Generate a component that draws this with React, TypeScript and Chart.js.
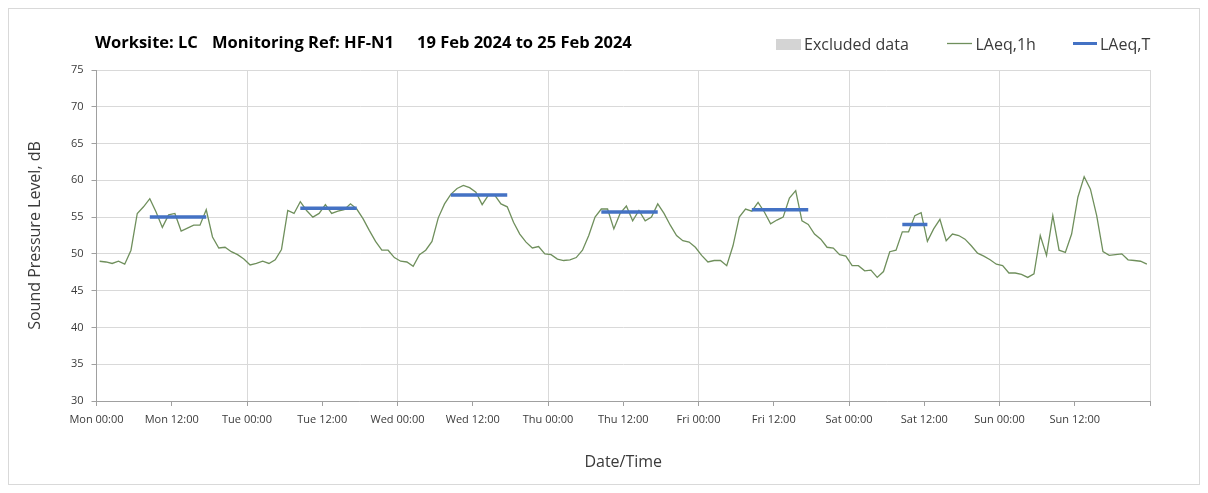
import React, { useEffect, useRef } from 'react';
import { Chart, registerables } from 'chart.js';

Chart.register(...registerables);

// ---- data ----
const dayNames = ['Mon', 'Tue', 'Wed', 'Thu', 'Fri', 'Sat', 'Sun'];
const tickLabels = dayNames.flatMap((d) => [`${d} 00:00`, `${d} 12:00`]);

// hourly LAeq,1h values, Mon 00:00 .. Sun 23:00
const laeq1h = [
  49.0, 48.9, 48.7, 49.0, 48.6, 50.5, 55.5, 56.4, 57.5, 55.7, 53.6, 55.3, 55.5, 53.1, 53.5, 53.9, 53.9, 56.0, 52.3, 50.8, 50.9, 50.3, 49.9, 49.3,
  48.5, 48.7, 49.0, 48.7, 49.2, 50.6, 55.9, 55.5, 57.1, 55.9, 55.0, 55.5, 56.7, 55.5, 55.8, 56.0, 56.8, 56.1, 54.8, 53.2, 51.7, 50.5, 50.5, 49.5,
  49.0, 48.9, 48.3, 49.9, 50.5, 51.7, 54.9, 56.8, 58.1, 58.9, 59.3, 59.0, 58.4, 56.7, 58.0, 58.0, 56.8, 56.4, 54.3, 52.7, 51.6, 50.8, 51.0, 50.0,
  49.9, 49.3, 49.1, 49.2, 49.5, 50.5, 52.5, 55.0, 56.1, 56.1, 53.4, 55.5, 56.5, 54.5, 55.9, 54.5, 55.0, 56.8, 55.5, 53.9, 52.5, 51.8, 51.6, 50.9,
  49.8, 48.9, 49.1, 49.1, 48.4, 51.1, 55.0, 56.1, 55.8, 57.0, 55.7, 54.1, 54.6, 55.0, 57.6, 58.6, 54.5, 54.0, 52.7, 52.0, 50.9, 50.8, 49.9, 49.7,
  48.4, 48.4, 47.7, 47.8, 46.8, 47.6, 50.3, 50.5, 53.0, 53.0, 55.2, 55.6, 51.7, 53.4, 54.7, 51.8, 52.7, 52.5, 52.0, 51.1, 50.1, 49.7, 49.2, 48.6,
  48.4, 47.4, 47.4, 47.2, 46.8, 47.3, 52.5, 49.8, 55.2, 50.5, 50.2, 52.7, 57.7, 60.5, 58.8, 55.2, 50.3, 49.8, 49.9, 50.0, 49.2, 49.1, 49.0, 48.6,
];

// LAeq,T periods (hour index from Mon 00:00)
const periodStart = [8, 32, 56, 80, 104, 128];
const periodEnd = [17, 41, 65, 89, 113, 132];
const periodLevel = [55.0, 56.2, 58.0, 55.7, 56.0, 54.0];

const yMin = 30;
const yMax = 75;
const yStep = 5;
const xMax = 168;
const xStep = 12;
const hourCentre = 0.5; // each hourly value is plotted at the middle of its hour

const titleParts = ['Worksite: LC', 'Monitoring Ref: HF-N1', '19 Feb 2024 to 25 Feb 2024'];
const legendLabels = ['Excluded data', 'LAeq,1h', 'LAeq,T'];

const GREEN = '#6f8f5c';
const BLUE = '#4472c4';
const GREY_BOX = '#d4d4d4';
const GRID = '#d9d9d9';
const AXIS = '#a0a0a0';
const TEXT = '#3a3a3a';

const headerPlugin = {
  id: 'header',
  afterDraw(chart: any) {
    const ctx = chart.ctx as CanvasRenderingContext2D;
    ctx.save();
    // title
    ctx.fillStyle = '#000';
    ctx.font = 'bold 16.5px "Open Sans"';
    ctx.textBaseline = 'alphabetic';
    ctx.textAlign = 'left';
    const tx = [86, 203, 408];
    titleParts.forEach((t, i) => ctx.fillText(t, tx[i], 38.5));

    // legend
    ctx.font = '16px "Open Sans"';
    ctx.fillStyle = GREY_BOX;
    ctx.fillRect(767, 30, 25, 11);
    ctx.fillStyle = TEXT;
    ctx.fillText(legendLabels[0], 795, 41);

    ctx.strokeStyle = GREEN;
    ctx.lineWidth = 1.3;
    ctx.beginPath();
    ctx.moveTo(938, 34.5);
    ctx.lineTo(963, 34.5);
    ctx.stroke();
    ctx.fillText(legendLabels[1], 966.5, 41);

    ctx.strokeStyle = BLUE;
    ctx.lineWidth = 3;
    ctx.beginPath();
    ctx.moveTo(1064, 34.5);
    ctx.lineTo(1088, 34.5);
    ctx.stroke();
    ctx.fillText(legendLabels[2], 1091, 41);
    ctx.restore();
  },
};

export default function App() {
  const canvasRef = useRef<HTMLCanvasElement | null>(null);

  useEffect(() => {
    if (!canvasRef.current) return;

    const hourlyPoints = laeq1h.map((v, i) => ({ x: i + hourCentre, y: v }));
    const periodPoints: { x: number; y: number | null }[] = [];
    periodStart.forEach((s, i) => {
      periodPoints.push({ x: s + hourCentre, y: periodLevel[i] });
      periodPoints.push({ x: periodEnd[i] + hourCentre, y: periodLevel[i] });
      periodPoints.push({ x: periodEnd[i] + hourCentre, y: null });
    });

    const chart = new Chart(canvasRef.current, {
      type: 'line',
      data: {
        datasets: [
          {
            label: 'LAeq,T',
            data: periodPoints as any,
            borderColor: BLUE,
            borderWidth: 3.5,
            borderCapStyle: 'butt',
            pointRadius: 0,
            spanGaps: false,
            tension: 0,
          },
          {
            label: 'LAeq,1h',
            data: hourlyPoints,
            borderColor: GREEN,
            borderWidth: 1.3,
            pointRadius: 0,
            tension: 0,
          },
        ],
      },
      options: {
        responsive: false,
        animation: false,
        devicePixelRatio: 1,
        layout: { padding: { top: 61, right: 49, left: 0, bottom: 0 } },
        plugins: {
          legend: { display: false },
          title: { display: false },
          tooltip: { enabled: false },
        },
        scales: {
          x: {
            type: 'linear',
            min: 0,
            max: xMax,
            afterFit: (scale: any) => {
              scale.height = 83;
            },
            ticks: {
              stepSize: xStep,
              autoSkip: false,
              maxRotation: 0,
              minRotation: 0,
              padding: 7,
              color: TEXT,
              font: { family: '"Open Sans"', size: 11 },
              callback: (v: any) => {
                const idx = Math.round(Number(v) / xStep);
                return tickLabels[idx] ?? '';
              },
            },
            grid: {
              color: (c: any) => (c.tick && c.tick.value % 24 === 0 ? GRID : 'rgba(0,0,0,0)'),
              tickColor: AXIS,
              tickLength: 5,
              lineWidth: 1,
            },
            border: { display: true, color: AXIS },
            title: {
              display: true,
              text: 'Date/Time',
              color: TEXT,
              font: { family: '"Open Sans"', size: 16 },
              padding: { top: 0, bottom: 12 },
            },
          },
          y: {
            type: 'linear',
            min: yMin,
            max: yMax,
            afterFit: (scale: any) => {
              scale.width = 87.5;
            },
            ticks: {
              stepSize: yStep,
              padding: 8,
              color: TEXT,
              font: { family: '"Open Sans"', size: 11 },
            },
            grid: {
              color: GRID,
              tickColor: AXIS,
              tickLength: 5,
            },
            border: { display: true, color: AXIS },
            title: {
              display: true,
              text: 'Sound Pressure Level, dB',
              color: TEXT,
              font: { family: '"Open Sans"', size: 16 },
              padding: { top: 17, bottom: 0 },
            },
          },
        },
      },
      plugins: [headerPlugin],
    });

    return () => chart.destroy();
  }, []);

  return (
    <div
      style={{
        width: 1192,
        height: 477,
        border: '1px solid #d9d9d9',
        boxSizing: 'border-box',
        background: '#fff',
      }}
    >
      <canvas ref={canvasRef} width={1190} height={475} style={{ display: 'block' }} />
    </div>
  );
}
